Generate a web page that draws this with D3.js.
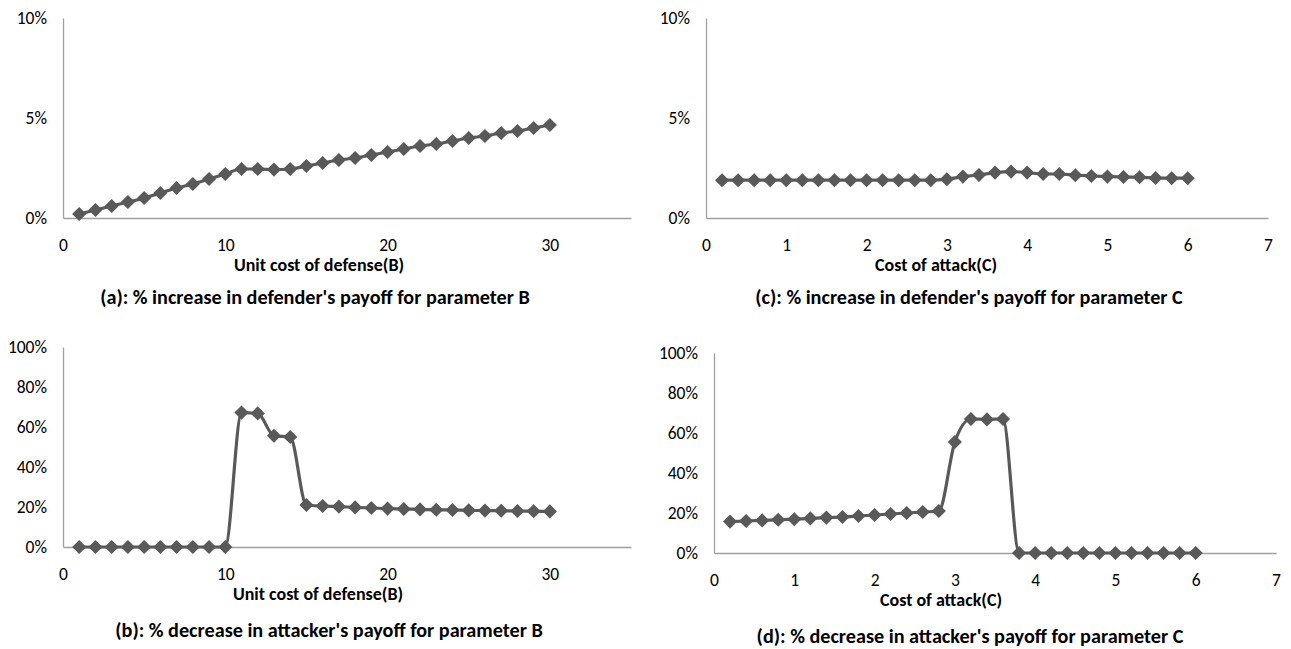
<!DOCTYPE html>
<html>
<head>
<meta charset="utf-8">
<script src="https://cdn.jsdelivr.net/npm/d3@7"></script>
<style>
  body { margin: 0; background: #fff; }
  svg text { font-family: Carlito, Lato, "Liberation Sans Narrow", sans-serif; fill: #000; }
</style>
</head>
<body>
<div id="main"></div>
<script>
const width = 1291;
const height = 649;

// x values
const costB = [1,2,3,4,5,6,7,8,9,10,11,12,13,14,15,16,17,18,19,20,21,22,23,24,25,26,27,28,29,30];
const costC = [0.2,0.4,0.6,0.8,1.0,1.2,1.4,1.6,1.8,2.0,2.2,2.4,2.6,2.8,3.0,3.2,3.4,3.6,3.8,4.0,4.2,4.4,4.6,4.8,5.0,5.2,5.4,5.6,5.8,6.0];

// (a) % increase in defender's payoff vs B
const defIncB = [0.002,0.004,0.006,0.008,0.010,0.0125,0.015,0.017,0.0195,0.022,0.0245,0.0245,0.0242,0.0245,0.026,0.0275,0.029,0.030,0.0315,0.033,0.0345,0.036,0.037,0.0385,0.040,0.041,0.0425,0.0435,0.045,0.0465];
// (c) % increase in defender's payoff vs C
const defIncC = [0.0189,0.0189,0.0189,0.0189,0.0189,0.0189,0.0189,0.0189,0.0189,0.0189,0.0189,0.0189,0.0189,0.0189,0.0194,0.0207,0.0215,0.0227,0.0232,0.0227,0.022,0.022,0.0214,0.021,0.0207,0.0205,0.0204,0.020,0.0199,0.0199];
// (b) % decrease in attacker's payoff vs B
const attDecB = [0,0,0,0,0,0,0,0,0,0,0.672,0.668,0.556,0.55,0.21,0.205,0.202,0.198,0.195,0.192,0.19,0.188,0.186,0.185,0.183,0.182,0.181,0.18,0.179,0.178];
// (d) % decrease in attacker's payoff vs C
const attDecC = [0.157,0.16,0.163,0.166,0.169,0.173,0.177,0.18,0.185,0.19,0.195,0.2,0.205,0.21,0.555,0.67,0.668,0.67,0,0,0,0,0,0,0,0,0,0,0,0];

const ticksPct10 = [0,0.05,0.1];
const ticksPct100 = [0,0.2,0.4,0.6,0.8,1.0];
const ticksB = [0,10,20,30];
const ticksC = [0,1,2,3,4,5,6,7];

const panels = [
  {xs: costB, ys: defIncB, xMax: 35, yMax: 0.1, yTicks: ticksPct10, xTicks: ticksB,
   left: 63, right: 631, top: 18, bottom: 218, titleX: 319, capX: 315,
   xTitle: "Unit cost of defense(B)", caption: "(a): % increase in defender's payoff for parameter B"},
  {xs: costC, ys: defIncC, xMax: 7, yMax: 0.1, yTicks: ticksPct10, xTicks: ticksC,
   left: 706, right: 1268, top: 18, bottom: 218, titleX: 936, capX: 969,
   xTitle: "Cost of attack(C)", caption: "(c): % increase in defender's payoff for parameter C"},
  {xs: costB, ys: attDecB, xMax: 35, yMax: 1, yTicks: ticksPct100, xTicks: ticksB,
   left: 63, right: 631, top: 347, bottom: 547, titleX: 318, capX: 329,
   xTitle: "Unit cost of defense(B)", caption: "(b): % decrease in attacker's payoff for parameter B"},
  {xs: costC, ys: attDecC, xMax: 7, yMax: 1, yTicks: ticksPct100, xTicks: ticksC,
   left: 714, right: 1276, top: 353, bottom: 553, titleX: 941, capX: 970,
   xTitle: "Cost of attack(C)", caption: "(d): % decrease in attacker's payoff for parameter C"}
];

const svg = d3.select("#main").append("svg")
  .attr("width", width)
  .attr("height", height);

const ink = "#595959";
const fmt = d3.format(".0%");

panels.forEach(p => {
  const x = d3.scaleLinear().domain([0, p.xMax]).range([p.left, p.right]);
  const y = d3.scaleLinear().domain([0, p.yMax]).range([p.bottom, p.top]);
  const g = svg.append("g");

  // axes
  const yAxis = g.append("g").attr("transform", `translate(${p.left},0)`)
    .call(d3.axisLeft(y).tickValues(p.yTicks).tickFormat(fmt).tickSize(0).tickPadding(16));
  const xAxis = g.append("g").attr("transform", `translate(0,${p.bottom})`)
    .call(d3.axisBottom(x).tickValues(p.xTicks).tickFormat(d3.format("d")).tickSize(0).tickPadding(21));
  [yAxis, xAxis].forEach(a => {
    a.select(".domain").attr("stroke", "#a0a0a0").attr("stroke-width", 1.3);
    a.selectAll("text").style("font-size", "17.5px").attr("fill", "#000");
  });

  const pts = p.xs.map((v, i) => [v, p.ys[i]]);
  const line = d3.line().x(d => x(d[0])).y(d => y(d[1])).curve(d3.curveMonotoneX);
  g.append("path").datum(pts)
    .attr("d", line)
    .attr("fill", "none")
    .attr("stroke", ink)
    .attr("stroke-width", 3.2)
    .attr("stroke-linejoin", "round");

  const diamond = d3.symbol().type(d3.symbolSquare).size(100);
  g.selectAll(".pt").data(pts).join("path")
    .attr("class", "pt")
    .attr("d", diamond)
    .attr("transform", d => `translate(${x(d[0])},${y(d[1])}) rotate(45)`)
    .attr("fill", ink);

  g.append("text")
    .attr("x", p.titleX).attr("y", p.bottom + 49)
    .attr("text-anchor", "middle").attr("dominant-baseline", "middle")
    .style("font-size", "18px").style("font-weight", "bold")
    .text(p.xTitle);

  g.append("text")
    .attr("x", p.capX).attr("y", p.bottom + (p.top < 100 ? 81 : 85))
    .attr("text-anchor", "middle").attr("dominant-baseline", "middle")
    .style("font-size", "20.2px").style("font-weight", "bold")
    .text(p.caption);
});
</script>
</body>
</html>
